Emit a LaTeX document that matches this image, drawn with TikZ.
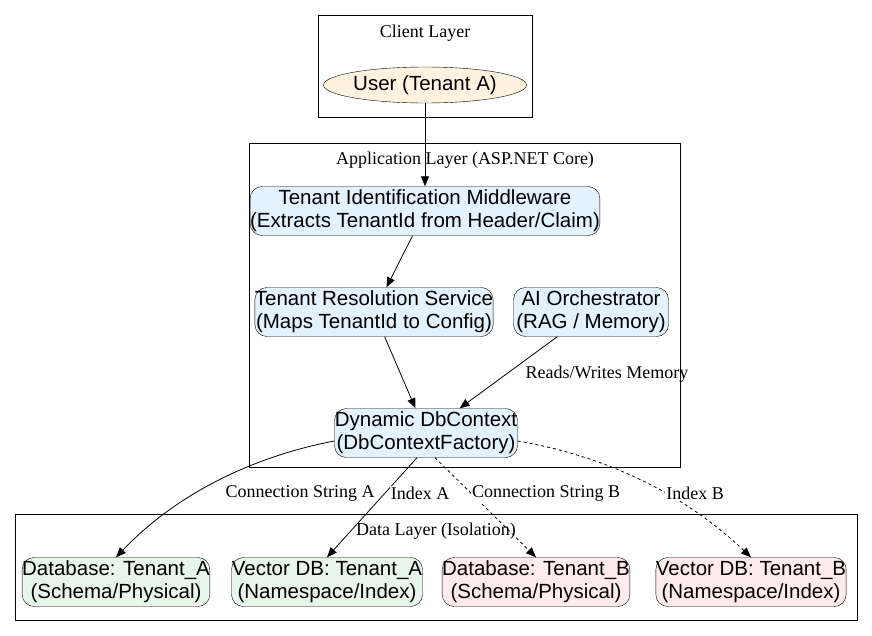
\documentclass[tikz,border=0pt]{standalone}
\usepackage{fontspec}
\setmainfont{Liberation Serif}
\setsansfont{Liberation Sans}
\usetikzlibrary{shapes.geometric,arrows.meta}
\begin{document}
\begin{tikzpicture}[x=1pt,y=-1pt,
  box/.style={draw,rounded corners=12pt,font=\sffamily\fontsize{20.5}{23}\selectfont,align=center,inner sep=0pt,minimum height=49pt},
  blue/.style={box,fill=cBlue},
  green/.style={box,fill=cGreen},
  pink/.style={box,fill=cPink},
  layer/.style={draw},
  lab/.style={font=\fontsize{18}{20}\selectfont},
  arr/.style={-{Triangle[length=10pt,width=8pt]},thick}]
\definecolor{cBlue}{HTML}{E3F2FD}
\definecolor{cGreen}{HTML}{E8F5E9}
\definecolor{cPink}{HTML}{FFEBEE}
\definecolor{cCream}{HTML}{FFF3E0}
\useasboundingbox (0,0) rectangle (872,635);
\draw[layer] (318,15) rectangle (532,117);
\node[lab] (cl) at (425,33) {Client Layer};
\draw[layer] (249,143) rectangle (680,467);
\node[lab] (al) at (465,160) {Application Layer (ASP.NET Core)};
\draw[layer] (15,514) rectangle (857,620);
\node[lab] (dl) at (436,531) {Data Layer (Isolation)};
\node[draw,ellipse,fill=cCream,minimum width=136pt,minimum height=36pt,inner sep=0pt,font=\sffamily\fontsize{20.5}{23}\selectfont] (user) at (425,85) {User (Tenant A)};
\node[blue,minimum width=330pt] (mw) at (425,211) {Tenant Identification Middleware\\(Extracts TenantId from Header/Claim)};
\node[blue,minimum width=231pt] (rs) at (374,312) {Tenant Resolution Service\\(Maps TenantId to Config)};
\node[blue,minimum width=155pt] (ai) at (591,312) {AI Orchestrator\\(RAG / Memory)};
\node[blue,minimum width=183pt] (db) at (426,433) {Dynamic DbContext\\(DbContextFactory)};
\node[green,minimum width=180pt] (da) at (116,582) {Database: Tenant\_A\\(Schema/Physical)};
\node[green,minimum width=191pt] (va) at (327,582) {Vector DB: Tenant\_A\\(Namespace/Index)};
\node[pink,minimum width=179pt] (dbb) at (536,582) {Database: Tenant\_B\\(Schema/Physical)};
\node[pink,minimum width=190pt] (vb) at (751,582) {Vector DB: Tenant\_B\\(Namespace/Index)};
\draw[arr] (user) -- (mw);
\draw[arr] (mw) -- (rs);
\draw[arr] (rs) -- (db);
\draw[arr] (ai) -- (db);
\node[lab] (l1) at (607,374) {Reads/Writes Memory};
\draw[arr] (db.185) .. controls (260,455) and (180,490) .. (da.north);
\draw[arr] (db.250) -- (va.north);
\draw[arr,dashed] (db.290) -- (dbb.north);
\draw[arr,dashed] (db.355) .. controls (600,455) and (680,490) .. (vb.north);
\node[lab,fill=white,inner sep=1pt] (l2) at (300,493) {Connection String A};
\node[lab,fill=white,inner sep=1pt] (l3) at (420,493) {Index A};
\node[lab,fill=white,inner sep=1pt] (l4) at (546,493) {Connection String B};
\node[lab,fill=white,inner sep=1pt] (l5) at (695,493) {Index B};
\end{tikzpicture}
\end{document}
